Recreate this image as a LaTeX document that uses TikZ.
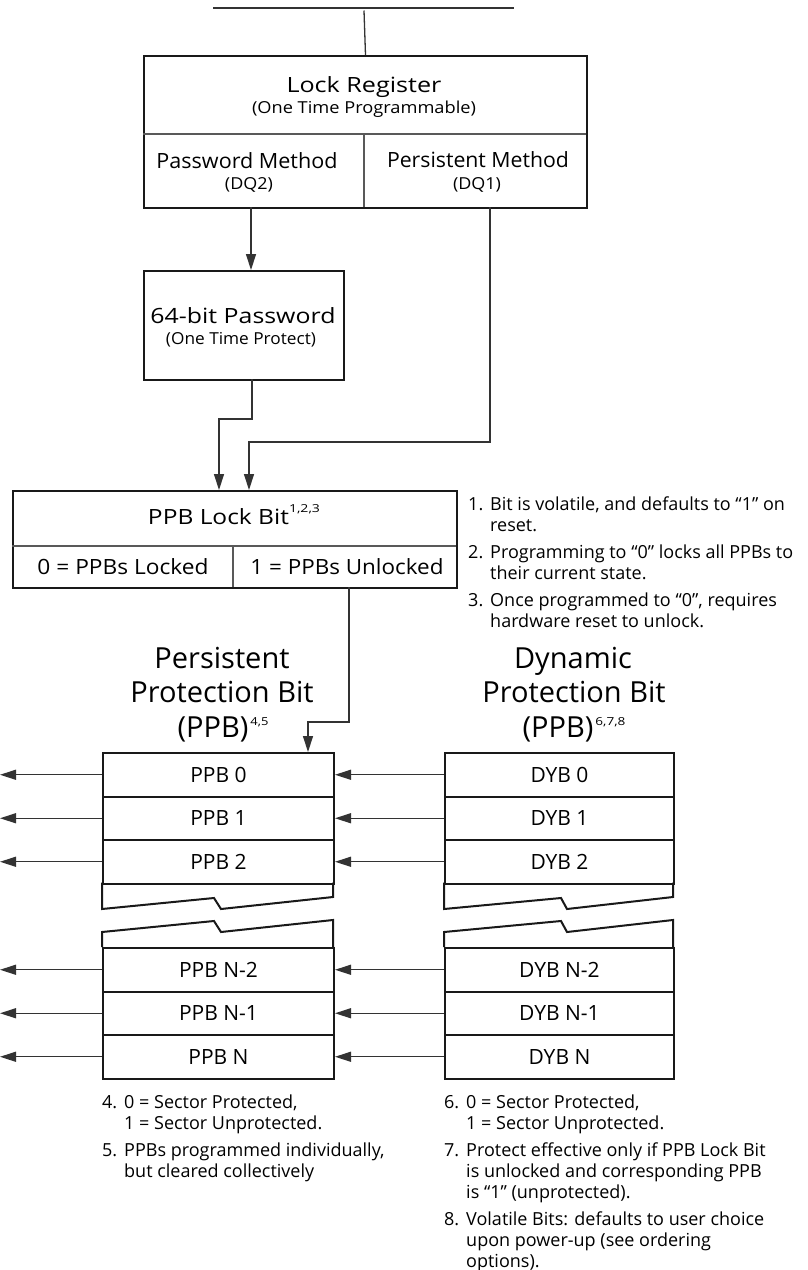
\documentclass[tikz,border=0pt]{standalone}
\usepackage{fontspec}
\usepackage{graphicx}
\setmainfont{Open Sans}
\usetikzlibrary{arrows.meta}
\newcommand\notenum[1]{\makebox[22pt][l]{#1}}
\newcommand\fitw[2]{\resizebox{#1}{\height}{#2}}
\newcommand\supnum[3]{\raisebox{#1}{\fontsize{11}{11}\selectfont\resizebox{#2}{\height}{#3}}}
\begin{document}
\begin{tikzpicture}[x=1pt,y=-1pt,
  frame/.style={draw=black!90, line width=2pt, rectangle, inner sep=0pt},
  divider/.style={draw=black!65, line width=1.2pt},
  conn/.style={draw=black!80, line width=1.3pt},
  arr/.style={conn, -{Triangle[length=16pt,width=10pt]}},
  lbl/.style={inner sep=0pt, anchor=base, font=\fontsize{21}{25}\selectfont},
  sublbl/.style={inner sep=0pt, anchor=base, font=\fontsize{16.5}{19}\selectfont},
  rowbox/.style={frame, minimum height=43.5pt, anchor=north west, font=\fontsize{21}{25}\selectfont},
  ttl/.style={inner sep=0pt, anchor=base, font=\fontsize{29}{33}\selectfont},
  note/.style={inner sep=0pt, anchor=base west, font=\fontsize{18}{21}\selectfont},
]
\useasboundingbox (0,0) rectangle (808,1270);

% top bus
\coordinate (tl) at (213,8);
\coordinate (tr) at (514,8);
\draw[conn] (tl) -- (tr);

% Lock register
\node[frame, minimum width=443pt, minimum height=152pt, anchor=north west] (lock) at (143,55) {};
\coordinate (tv) at (364,10.5);
\draw[conn] (tv) -- (lock.north);
\draw[divider] (143,134) -- (586,134);
\draw[divider] (364,134) -- (364,207);
\node[lbl] (lockt) at (364,92) {\fitw{155pt}{Lock Register}};
\node[sublbl] (locks) at (364,113.5) {\fitw{224pt}{(One Time Programmable)}};
\node[lbl] (pwm) at (247,168) {\fitw{181pt}{Password Method}};
\node[sublbl] (pwms) at (249,189.5) {\fitw{48pt}{(DQ2)}};
\node[lbl] (psm) at (478,167.5) {\fitw{182pt}{Persistent Method}};
\node[sublbl] (psms) at (477,189.5) {\fitw{48pt}{(DQ1)}};

% 64-bit password
\node[frame, minimum width=200pt, minimum height=109pt, anchor=north west] (pwd) at (143,270) {};
\node[lbl] (pwdt) at (243,323.5) {\fitw{185pt}{64-bit Password}};
\node[sublbl] (pwds) at (241,344) {\fitw{150pt}{(One Time Protect)}};

% PPB lock bit
\node[frame, minimum width=444pt, minimum height=97pt, anchor=north west] (lockbit) at (12,490) {};
\draw[divider] (12,546) -- (456,546);
\draw[divider] (233,546) -- (233,587);
\node[lbl] (lbt) at (234,524) {\fitw{141pt}{PPB Lock Bit}\supnum{11.5pt}{31pt}{1,2,3}};
\node[lbl] (lb0) at (123,574) {\fitw{171pt}{0 = PPBs Locked}};
\node[lbl] (lb1) at (347,574) {\fitw{193pt}{1 = PPBs Unlocked}};

% connectors
\coordinate (pw) at (251,207);
\draw[arr] (pw) -- (pwd.north -| pw);
\coordinate (pwb) at (252,379);
\coordinate (k1) at (252,419);
\coordinate (k2) at (219,419);
\draw[arr] (pwb) -- (k1) -- (k2) -- (k2 |- lockbit.north);
\coordinate (pm) at (490,207);
\coordinate (k3) at (490,442);
\coordinate (k4) at (249,442);
\draw[arr] (pm) -- (k3) -- (k4) -- (k4 |- lockbit.north);

% notes 1-3
\node[note] (notesA) at (468,510) {\begin{tabular}[t]{@{}l@{}}
\notenum{1.}Bit is volatile, and defaults to “1” on\\
\notenum{}reset.\\[6pt]
\notenum{2.}Programming to “0” locks all PPBs to\\
\notenum{}their current state.\\[6pt]
\notenum{3.}Once programmed to “0”, requires\\
\notenum{}hardware reset to unlock.
\end{tabular}};

% titles
\node[ttl] (pt1) at (222,668) {Persistent};
\node[ttl] (pt2) at (222,702) {Protection Bit};
\node[ttl] (pt3) at (223,737) {(PPB)\kern2pt\supnum{12pt}{18pt}{4,5}};
\node[ttl] (dt1) at (573,668) {Dynamic};
\node[ttl] (dt2) at (574,702) {Protection Bit};
\node[ttl] (dt3) at (574,737) {(PPB)\kern2pt\supnum{12pt}{30pt}{6,7,8}};

% PPB column
\node[rowbox, minimum width=231pt] (ppb0) at (102,752) {PPB 0};
\node[rowbox, minimum width=231pt] (ppb1) at (102,795.5) {PPB 1};
\node[rowbox, minimum width=231pt] (ppb2) at (102,839) {PPB 2};
\node[rowbox, minimum width=231pt] (ppbn2) at (102,947) {PPB N-2};
\node[rowbox, minimum width=231pt] (ppbn1) at (102,990.5) {PPB N-1};
\node[rowbox, minimum width=231pt] (ppbn) at (102,1034) {PPB N};
\draw[line width=2pt, draw=black!90, line join=miter] (102,882.5) -- (102,909) -- (214,898) -- (221,909) -- (333,897) -- (333,882.5);
\draw[line width=2pt, draw=black!90, line join=miter] (102,947) -- (102,932) -- (214,921) -- (221,932) -- (333,920) -- (333,947);

% DYB column
\node[rowbox, minimum width=229pt] (dyb0) at (444,752) {DYB 0};
\node[rowbox, minimum width=229pt] (dyb1) at (444,795.5) {DYB 1};
\node[rowbox, minimum width=229pt] (dyb2) at (444,839) {DYB 2};
\node[rowbox, minimum width=229pt] (dybn2) at (444,947) {DYB N-2};
\node[rowbox, minimum width=229pt] (dybn1) at (444,990.5) {DYB N-1};
\node[rowbox, minimum width=229pt] (dybn) at (444,1034) {DYB N};
\draw[line width=2pt, draw=black!90, line join=miter] (444,882.5) -- (444,909) -- (561,898) -- (567,909) -- (673,897) -- (673,882.5);
\draw[line width=2pt, draw=black!90, line join=miter] (444,947) -- (444,932) -- (561,921) -- (567,932) -- (673,920) -- (673,947);

% lock bit to PPB 0
\coordinate (ub) at (349,587);
\coordinate (k5) at (349,722);
\coordinate (k6) at (308,722);
\draw[arr] (ub) -- (k5) -- (k6) -- (k6 |- ppb0.north);

% row arrows
\coordinate (edge) at (0,0);
\foreach \r/\d in {ppb0/dyb0, ppb1/dyb1, ppb2/dyb2, ppbn2/dybn2, ppbn1/dybn1, ppbn/dybn}{
  \draw[arr] (\r.west) -- (\r.west -| edge);
  \draw[arr] (\d.west) -- (\r.east);
}

% notes 4-5
\node[note] (notesB) at (102,1108) {\begin{tabular}[t]{@{}l@{}}
\notenum{4.}0 = Sector Protected,\\
\notenum{}1 = Sector Unprotected.\\[6pt]
\notenum{5.}PPBs programmed individually,\\
\notenum{}but cleared collectively
\end{tabular}};

% notes 6-8
\node[note] (notesC) at (444,1108) {\begin{tabular}[t]{@{}l@{}}
\notenum{6.}0 = Sector Protected,\\
\notenum{}1 = Sector Unprotected.\\[6pt]
\notenum{7.}Protect effective only if PPB Lock Bit\\
\notenum{}is unlocked and corresponding PPB\\
\notenum{}is “1” (unprotected).\\[6pt]
\notenum{8.}Volatile Bits: defaults to user choice\\
\notenum{}upon power-up (see ordering\\
\notenum{}options).
\end{tabular}};
\end{tikzpicture}
\end{document}
